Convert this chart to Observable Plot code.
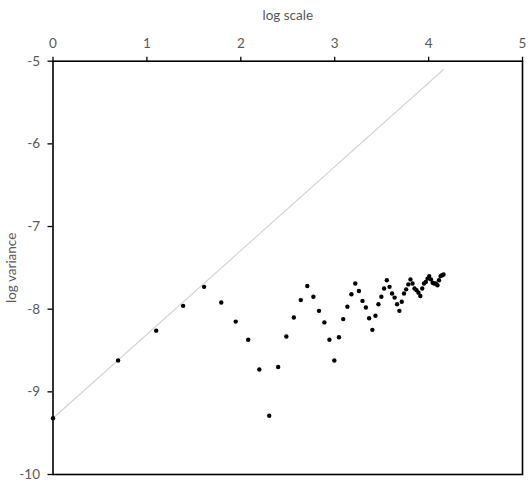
<!DOCTYPE html>
<html><head><meta charset="utf-8">
<script src="https://cdn.jsdelivr.net/npm/d3@7"></script>
<script src="https://cdn.jsdelivr.net/npm/@observablehq/plot@0.6"></script>
<style>body{margin:0;background:#fff}</style>
</head><body><div id="chart"></div>
<script>
const xValues = [0, 0.693, 1.099, 1.386, 1.609, 1.792, 1.946, 2.079, 2.197, 2.303,
  2.398, 2.485, 2.565, 2.639, 2.708, 2.773, 2.833, 2.890, 2.944, 2.996,
  3.045, 3.091, 3.135, 3.178, 3.219, 3.258, 3.296, 3.332, 3.367, 3.401,
  3.434, 3.466, 3.497, 3.526, 3.555, 3.584, 3.611, 3.638, 3.664, 3.689,
  3.714, 3.738, 3.761, 3.784, 3.807, 3.829, 3.850, 3.871, 3.892, 3.912,
  3.932, 3.951, 3.970, 3.989, 4.007, 4.025, 4.043, 4.060, 4.078, 4.094,
  4.111, 4.127, 4.143, 4.159];
const yValues = [-9.32, -8.62, -8.26, -7.96, -7.73, -7.92, -8.15, -8.37, -8.73, -9.29,
  -8.70, -8.33, -8.10, -7.89, -7.72, -7.85, -8.02, -8.16, -8.37, -8.62,
  -8.34, -8.12, -7.97, -7.82, -7.69, -7.78, -7.90, -7.98, -8.11, -8.25,
  -8.08, -7.94, -7.85, -7.75, -7.65, -7.73, -7.81, -7.86, -7.94, -8.02,
  -7.91, -7.81, -7.76, -7.70, -7.64, -7.69, -7.75, -7.77, -7.80, -7.84,
  -7.75, -7.69, -7.67, -7.63, -7.60, -7.64, -7.68, -7.69, -7.69, -7.71,
  -7.65, -7.60, -7.59, -7.58];
const lineX = [0, 4.159];
const lineY = [-9.32, -5.10];
const xTicks = [0, 1, 2, 3, 4, 5];
const yTicks = [-10, -9, -8, -7, -6, -5];

const points = xValues.map((x, i) => ({x, y: yValues[i]}));
const lineData = lineX.map((x, i) => ({x, y: lineY[i]}));

const chart = Plot.plot({
  width: 530, height: 485,
  marginLeft: 52.5, marginRight: 8, marginTop: 60.7, marginBottom: 11,
  x: {domain: [0, 5]},
  y: {domain: [-10, -5]},
  style: {fontFamily: "Lato, sans-serif", fontSize: "13.5px", color: "#595959", background: "white"},
  marks: [
    Plot.line(lineData, {x: "x", y: "y", stroke: "#d4d4d4", strokeWidth: 1.2}),
    Plot.dot(points, {x: "x", y: "y", r: 2.2, fill: "black"}),
    Plot.frame({stroke: "black", strokeWidth: 1.6}),
    Plot.axisX({anchor: "top", ticks: xTicks, tickFormat: d => String(d), tickSize: 5, tickPadding: 8,
      stroke: "black", strokeWidth: 1.3, label: "log scale", labelAnchor: "center", labelArrow: "none", labelOffset: 51}),
    Plot.axisY({anchor: "left", ticks: yTicks, tickFormat: d => String(d), tickSize: 5, tickPadding: 8,
      stroke: "black", strokeWidth: 1.3, label: "log variance", labelAnchor: "center", labelArrow: "none", labelOffset: 47})
  ]
});
document.getElementById("chart").appendChild(chart);
</script>
</body></html>
